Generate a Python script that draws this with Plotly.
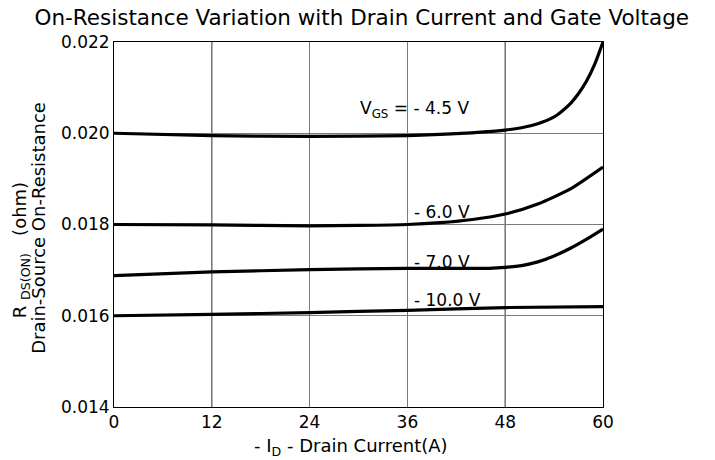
import plotly.graph_objects as go

current_45 = [0, 12, 24, 36, 42, 48, 50, 52, 54, 55, 56, 57, 58, 59, 60]
r_45 = [0.02000, 0.01995, 0.01993, 0.01995, 0.01999, 0.02007, 0.02012, 0.02021, 0.02036, 0.02049,
        0.02065, 0.02087, 0.02115, 0.02152, 0.02200]

current_6 = [0, 12, 24, 30, 36, 40, 44, 48, 52, 56, 60]
r_60 = [0.01800, 0.01799, 0.01797, 0.01798, 0.01800, 0.01804, 0.01811, 0.01823, 0.01845, 0.01878, 0.01926]

current_7 = [0, 12, 24, 36, 46, 48, 50, 52, 54, 56, 58, 60]
r_70 = [0.01688, 0.01696, 0.01701, 0.01704, 0.01704, 0.01706, 0.01710, 0.01718, 0.01731, 0.01748, 0.01768, 0.01790]

current_10 = [0, 12, 24, 36, 48, 60]
r_100 = [0.01600, 0.01603, 0.01607, 0.01612, 0.01618, 0.01620]

x_ticks = [0, 12, 24, 36, 48, 60]
y_ticks = [0.014, 0.016, 0.018, 0.020, 0.022]
y_tick_text = ["0.014", "0.016", "0.018", "0.020", "0.022"]
dark_grid_x = [12, 48]

labels = ["V<sub>GS</sub> = - 4.5 V", "- 6.0 V", "- 7.0 V", "- 10.0 V"]
label_x = [29.9, 36.6, 36.6, 36.6]
label_y = [0.02051, 0.01827, 0.01718, 0.01635]

FONT = "DejaVu Sans, Liberation Sans, Arial, sans-serif"

fig = go.Figure()
for xs, ys in [(current_45, r_45), (current_6, r_60), (current_7, r_70), (current_10, r_100)]:
    fig.add_trace(go.Scatter(x=xs, y=ys, mode="lines",
                             line=dict(color="black", width=3.2, shape="spline", smoothing=0.6),
                             showlegend=False, hoverinfo="skip"))

for gx in dark_grid_x:
    fig.add_shape(type="line", xref="x", yref="paper", x0=gx, x1=gx, y0=0, y1=1,
                  line=dict(color="black", width=1), layer="below")

for t, lx, ly in zip(labels, label_x, label_y):
    fig.add_annotation(x=lx, y=ly, text=t, showarrow=False, xanchor="left", yanchor="middle",
                       font=dict(family=FONT, size=17, color="black"))

fig.add_annotation(xref="paper", yref="paper", x=-0.19, y=0.43, xanchor="center", yanchor="middle",
                   text="R <sub>DS(ON)</sub>   (ohm)", textangle=-90, showarrow=False,
                   font=dict(family=FONT, size=18, color="black"))
fig.add_annotation(xref="paper", yref="paper", x=-0.156, y=0.49, xanchor="center", yanchor="middle",
                   text="Drain-Source On-Resistance", textangle=-90, showarrow=False,
                   font=dict(family=FONT, size=18, color="black"))
fig.add_annotation(xref="paper", yref="paper", x=0.485, y=-0.11, xanchor="center", yanchor="middle",
                   text="- I<sub>D</sub> - Drain Current(A)", showarrow=False,
                   font=dict(family=FONT, size=18, color="black"))

fig.update_layout(
    width=715, height=460,
    margin=dict(l=114, r=112, t=42, b=53),
    paper_bgcolor="white", plot_bgcolor="white",
    title=dict(text="On-Resistance Variation with Drain Current and Gate Voltage",
               x=0.506, xanchor="center", y=0.963, yanchor="middle",
               font=dict(family=FONT, size=21.5, color="black")),
    font=dict(family=FONT, size=17, color="black"),
    xaxis=dict(range=[0, 60], tickvals=x_ticks, showgrid=True, gridcolor="#7a7a7a", gridwidth=1,
               showline=True, linecolor="black", linewidth=1, mirror=True, zeroline=False,
               ticks="", ticklen=0, tickfont=dict(family=FONT, size=17)),
    yaxis=dict(range=[0.014, 0.022], tickvals=y_ticks, ticktext=y_tick_text, showgrid=True,
               gridcolor="#7a7a7a", gridwidth=1, showline=True, linecolor="black", linewidth=1,
               mirror=True, zeroline=False, ticks="", ticklen=0, tickfont=dict(family=FONT, size=17)),
)

fig.write_html("out.html")
